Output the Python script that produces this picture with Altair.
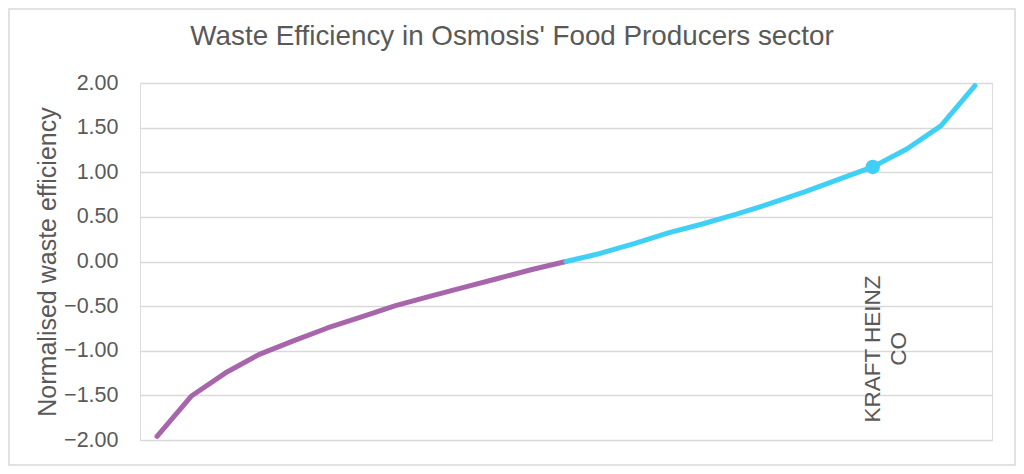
import altair as alt
import pandas as pd

# Normalised waste efficiency of the sector's companies, sorted ascending
values = [-1.96, -1.51, -1.25, -1.04, -0.89, -0.745, -0.62, -0.495, -0.39, -0.29,
          -0.19, -0.09, 0.0, 0.09, 0.20, 0.32, 0.42, 0.53, 0.65, 0.78,
          0.92, 1.06, 1.26, 1.52, 1.97]
split_index = 12          # where the line turns from purple to cyan
highlight_index = 21      # KRAFT HEINZ CO
highlight_label = "KRAFT HEINZ\nCO"
label_level = -0.98       # vertical anchor of the annotation (data units)
y_ticks = [-2.0, -1.5, -1.0, -0.5, 0.0, 0.5, 1.0, 1.5, 2.0]

PURPLE = "#A766AB"
CYAN = "#40D0F6"
GREY = "#595959"
FONT = "Liberation Sans"

rows = []
for i, v in enumerate(values):
    if i <= split_index:
        rows.append({"idx": i, "value": v, "segment": "below"})
    if i >= split_index:
        rows.append({"idx": i, "value": v, "segment": "above"})
df = pd.DataFrame(rows)

hl = pd.DataFrame({"idx": [highlight_index], "value": [values[highlight_index]],
                   "label": [highlight_label]})

W, H = 852, 357

x_scale = alt.Scale(domain=[-0.5, len(values) - 0.5], nice=False, zero=False)
y_scale = alt.Scale(domain=[-2, 2], nice=False)

line = alt.Chart(df).mark_line(strokeWidth=5, strokeCap="round", strokeJoin="round").encode(
    x=alt.X("idx:Q", scale=x_scale, axis=None),
    y=alt.Y("value:Q", scale=y_scale,
            axis=alt.Axis(values=y_ticks, format=".2f", title="Normalised waste efficiency",
                          domain=False, ticks=False, grid=True, gridColor="#D9D9D9",
                          gridWidth=1.3, labelFont=FONT, labelFontSize=21.5,
                          labelColor=GREY, labelPadding=22, titleFont=FONT,
                          titleFontSize=25, titleColor=GREY, titleFontWeight="normal",
                          titlePadding=3)),
    color=alt.Color("segment:N", scale=alt.Scale(domain=["below", "above"],
                                                 range=[PURPLE, CYAN]), legend=None),
    detail="segment:N",
)

point = alt.Chart(hl).mark_circle(size=210, color=CYAN, opacity=1).encode(
    x=alt.X("idx:Q", scale=x_scale),
    y=alt.Y("value:Q", scale=y_scale),
)

label = alt.Chart(hl).mark_text(angle=270, align="center", baseline="middle",
                                lineBreak="\n", font=FONT, fontSize=22.5,
                                lineHeight=26, color=GREY).encode(
    x=alt.X("idx:Q", scale=x_scale),
    y=alt.datum(label_level),
    text="label:N",
)

frame = alt.Chart(hl).mark_rect(fill=None, stroke="#D9D9D9", strokeWidth=1.5).encode(
    x=alt.value(-131), x2=alt.value(W + 23), y=alt.value(-74), y2=alt.value(H + 25),
)

chart = alt.layer(frame, line, point, label).properties(
    width=W, height=H,
    title=alt.TitleParams("Waste Efficiency in Osmosis' Food Producers sector",
                          font=FONT, fontSize=27.8, fontWeight="normal", color=GREY,
                          anchor="middle", dx=-54, dy=65, baseline="alphabetic", offset=0),
    autosize=alt.AutoSizeParams(type="none"),
    padding={"left": 132, "top": 75, "right": 24, "bottom": 26},
).configure_view(stroke=None).configure(background="white")

chart.save("out.html", embed_options={"renderer": "svg", "actions": False})
